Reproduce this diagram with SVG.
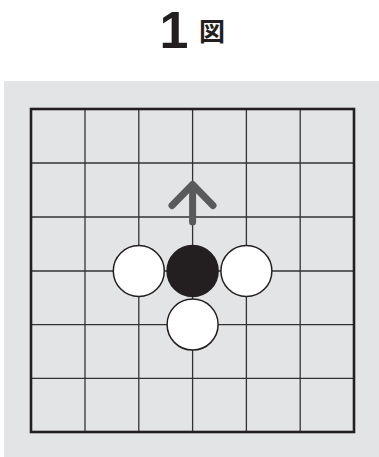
<svg xmlns="http://www.w3.org/2000/svg" width="379" height="457" viewBox="0 0 379 457">
<style>
.title{font-family:"Liberation Sans","Noto Sans CJK JP",sans-serif;font-weight:bold;fill:#231f20}
.grid line{stroke:#333;stroke-width:1.3}
.white{fill:#fff;stroke:#231f20;stroke-width:1.5}
.black{fill:#231f20;stroke:#231f20;stroke-width:1.5}
.arrow{fill:none;stroke:#5a5a5c;stroke-width:7;stroke-linecap:round;stroke-linejoin:round}
</style>
<rect x="0" y="0" width="379" height="457" fill="#fff"/>
<text class="title" x="174" y="48" font-size="52" text-anchor="middle">1</text>
<text class="title" x="212" y="41" font-size="26" text-anchor="middle" style="font-family:'Noto Sans CJK JP',sans-serif">図</text>
<rect x="4" y="81" width="375" height="376" fill="#e3e4e6"/>
<g id="board">
<g class="grid">
<line x1="85" y1="109" x2="85" y2="432"/>
<line x1="138.8" y1="109" x2="138.8" y2="432"/>
<line x1="192.6" y1="109" x2="192.6" y2="432"/>
<line x1="246.4" y1="109" x2="246.4" y2="432"/>
<line x1="300.2" y1="109" x2="300.2" y2="432"/>
<line x1="31" y1="163" x2="354" y2="163"/>
<line x1="31" y1="217" x2="354" y2="217"/>
<line x1="31" y1="271" x2="354" y2="271"/>
<line x1="31" y1="324.6" x2="354" y2="324.6"/>
<line x1="31" y1="378.4" x2="354" y2="378.4"/>
</g>
<rect x="31" y="109" width="323" height="323" fill="none" stroke="#231f20" stroke-width="2.6"/>
</g>
<g id="connectors">
<path class="arrow" d="M192.6 222 V185 M172 205.5 L192.6 184.5 L213 205.5"/>
</g>
<g id="stone-white-left"><circle class="white" cx="138.8" cy="271" r="25.5"/></g>
<g id="stone-black"><circle class="black" cx="192.6" cy="271" r="25.5"/></g>
<g id="stone-white-right"><circle class="white" cx="246.4" cy="271" r="25.5"/></g>
<g id="stone-white-bottom"><circle class="white" cx="192.6" cy="324.6" r="25.5"/></g>
</svg>
